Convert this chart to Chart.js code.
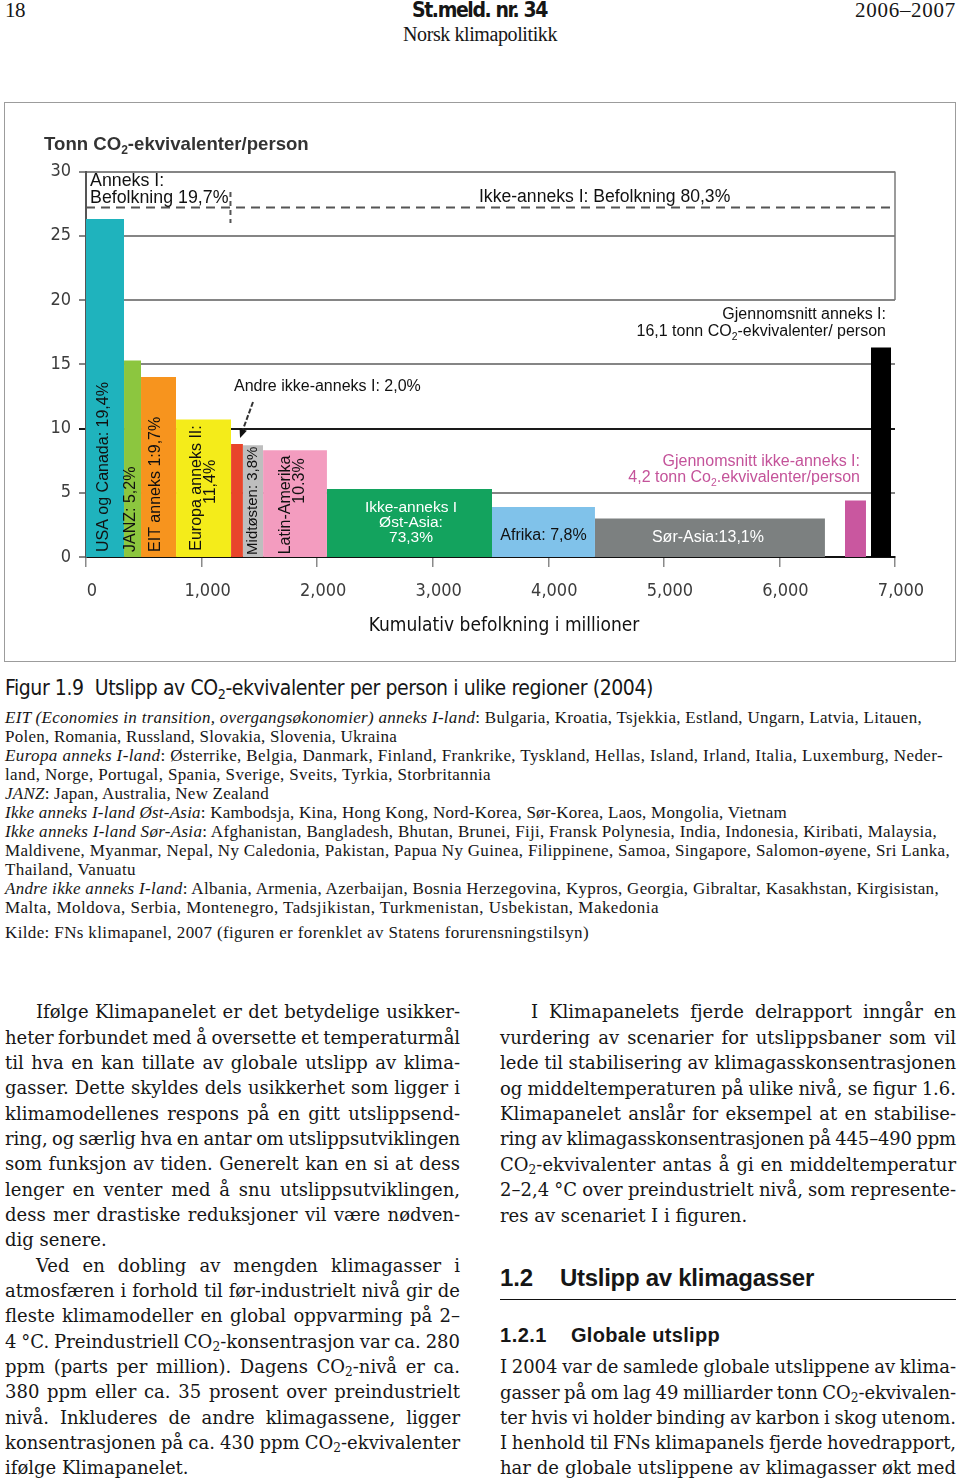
<!DOCTYPE html>
<html>
<head>
<meta charset="utf-8">
<script src="https://cdn.jsdelivr.net/npm/chart.js@4.4.1/dist/chart.umd.min.js"></script>
<style>
  html, body { margin: 0; padding: 0; background: #fff; }
  body { width: 960px; height: 1480px; position: relative; overflow: hidden; color: #161616; }
  .abs { position: absolute; white-space: nowrap; }
  sub { font-size: 0.68em; vertical-align: -0.28em; line-height: 0; }
  #frame { position: absolute; left: 4px; top: 102px; width: 952px; height: 560px; box-sizing: border-box; border: 1px solid #9c9c9c; }
  #chart { position: absolute; left: 0; top: 100px; }
  #rule { position: absolute; left: 500px; top: 1299px; width: 456px; height: 0; border-top: 1.5px solid #111; }
</style>
</head>
<body>
<div id="frame"></div>
<canvas id="chart" width="960" height="570"></canvas>
<div id="rule"></div>
<script>
// ---- data ----
const regionNames = ['USA og Canada', 'JANZ', 'EIT anneks I', 'Europa anneks II', 'Andre ikke-anneks I',
  'Midtøsten', 'Latin-Amerika', 'Ikke-anneks I Øst-Asia', 'Afrika', 'Sør-Asia'];
const popFrom = [0, 329, 476, 779, 1255, 1358, 1532, 2085, 3513, 4404];      // cumulative population, millions
const popTo = [329, 476, 779, 1255, 1358, 1532, 2085, 3513, 4404, 6394];
const tonnesPerPerson = [26.3, 15.3, 14.0, 10.7, 8.8, 8.7, 8.3, 5.3, 3.9, 3.0];

const avgNames = ['Gjennomsnitt ikke-anneks I', 'Gjennomsnitt anneks I'];
const avgFrom = [6567, 6792];
const avgTo = [6749, 6966];
const avgTonnes = [4.4, 16.3];

const annexSplitPop = 1250;
const annexLineLevel = 27.2;

const xTickLabels = ['0', '1,000', '2,000', '3,000', '4,000', '5,000', '6,000', '7,000'];
const yTickLabels = ['0', '5', '10', '15', '20', '25', '30'];

const barText = [
  ['USA og Canada: 19,4%'], ['JANZ: 5,2%'], ['EIT anneks 1:9,7%'], ['Europa anneks II:', '11,4%'], [],
  ['Midtøsten: 3,8%'], ['Latin-Amerika', '10.3%'], ['Ikke-anneks I', 'Øst-Asia:', '73,3%'],
  ['Afrika: 7,8%'], ['Sør-Asia:13,1%']
];

// ---- styling ----
const regionColors = ['#1fb3bd', '#8cc63f', '#f7941e', '#f4ec1a', '#e8452b', '#bebebe', '#f39cbf', '#13a35e', '#80c2ea', '#7c8080'];
const avgColors = ['#c9579f', '#000000'];
const SANS = "'Liberation Sans', Arial, sans-serif";
const NARROW = "'Liberation Sans Narrow', 'Arial Narrow', 'DejaVu Sans Condensed', sans-serif";
const SERIF = "'Liberation Serif', 'Times New Roman', serif";
const BODY = "'DejaVu Serif', 'Liberation Serif', serif";

// label placement: [dx in px from bar centre, y in tonnes]
const barLabelPos = [
  [[-1, 0.39]], [[-1.5, 0.39]], [[-2.5, 0.39]], [[-6.5, 5.37], [7.5, 5.84]], [],
  [[0, 0.16]], [[-9, 4.05], [5, 5.91]], [[1.5, 3.81], [1.5, 2.65], [1.5, 1.48]],
  [[0, 1.63]], [[-2, 1.48]]
];
const barLabelRot = [true, true, true, true, false, true, true, false, false, false];
const barLabelAlign = ['left', 'left', 'left', 'center', 'center', 'left', 'center', 'center', 'center', 'center'];
const barLabelColor = ['#111', '#111', '#111', '#111', '#111', '#111', '#111', '#fff', '#111', '#fff'];
const barLabelSize = [16, 16, 16, 16, 16, 15, 16, 15.5, 16, 16];

const freeNotes = [
  { t: 'Tonn CO_2-ekvivalenter/person', x: -363, y: 32.06, size: 18.6, weight: 'bold', color: '#333' },
  { t: 'Anneks I:', x: 35, y: 29.26, size: 17.8 },
  { t: 'Befolkning 19,7%', x: 35, y: 27.94, size: 17.8 },
  { t: 'Ikke-anneks I: Befolkning 80,3%', x: 3400, y: 28.0, size: 17.6 },
  { t: 'Gjennomsnitt anneks I:', x: 6922, y: 18.83, align: 'right', size: 16 },
  { t: '16,1 tonn CO_2-ekvivalenter/ person', x: 6922, y: 17.51, align: 'right', size: 16 },
  { t: 'Andre ikke-anneks I: 2,0%', x: 1281, y: 13.23, size: 16 },
  { t: 'Gjennomsnitt ikke-anneks I:', x: 6697, y: 7.39, align: 'right', size: 16, color: '#c4539a' },
  { t: '4,2 tonn Co_2.ekvivalenter/person', x: 6697, y: 6.15, align: 'right', size: 16, color: '#c4539a' }
];

// text with "_2" style subscripts
function drawText(c, text, x, y, o) {
  const size = o.size || 16, wt = o.weight || 'normal';
  const parts = text.split(/(_\d)/).filter(s => s).map(s => s[0] === '_' ? { t: s.slice(1), sub: true } : { t: s, sub: false });
  const font = sub => wt + ' ' + (sub ? size * 0.65 : size) + 'px ' + SANS;
  let w = 0;
  parts.forEach(p => { c.font = font(p.sub); p.w = c.measureText(p.t).width; w += p.w; });
  let sx = o.align === 'right' ? x - w : o.align === 'center' ? x - w / 2 : x;
  c.fillStyle = o.color || '#111';
  c.textAlign = 'left';
  c.textBaseline = 'middle';
  parts.forEach(p => { c.font = font(p.sub); c.fillText(p.t, sx, p.sub ? y + size * 0.32 : y); sx += p.w; });
}

const annotate = {
  id: 'annotate',
  afterDraw(chart) {
    const c = chart.ctx, xs = chart.scales.x, ys = chart.scales.y;
    const X = v => xs.getPixelForValue(v), Y = v => ys.getPixelForValue(v);
    c.save();

    // annex I / non-annex I divider
    c.strokeStyle = '#555';
    c.lineWidth = 2;
    c.setLineDash([9, 6]);
    c.beginPath(); c.moveTo(X(0), Y(annexLineLevel)); c.lineTo(X(7000), Y(annexLineLevel)); c.stroke();
    c.setLineDash([5, 4]);
    c.beginPath(); c.moveTo(X(annexSplitPop), Y(28.4)); c.lineTo(X(annexSplitPop), Y(26.0)); c.stroke();
    c.setLineDash([]);

    // right frame stub
    c.strokeStyle = '#7a7a7a';
    c.lineWidth = 1.5;
    c.beginPath(); c.moveTo(X(7000), Y(30)); c.lineTo(X(7000), Y(20)); c.stroke();

    // arrow to "Andre ikke-anneks I"
    const ax1 = X(1445), ay1 = Y(12.06), ax2 = X(1333), ay2 = Y(9.26);
    c.strokeStyle = '#333';
    c.lineWidth = 2;
    c.setLineDash([5, 2]);
    c.beginPath(); c.moveTo(ax1, ay1); c.lineTo(ax2 + 2, ay2 - 6); c.stroke();
    c.setLineDash([]);
    const ang = Math.atan2(ay2 - ay1, ax2 - ax1);
    c.fillStyle = '#111';
    c.beginPath();
    c.moveTo(ax2, ay2);
    c.lineTo(ax2 - 10 * Math.cos(ang - 0.4), ay2 - 10 * Math.sin(ang - 0.4));
    c.lineTo(ax2 - 10 * Math.cos(ang + 0.4), ay2 - 10 * Math.sin(ang + 0.4));
    c.closePath(); c.fill();

    // labels in the bars
    barText.forEach((lines, i) => {
      const cx = X((popFrom[i] + popTo[i]) / 2);
      lines.forEach((t, j) => {
        const [dx, yv] = barLabelPos[i][j];
        const o = { size: barLabelSize[i], color: barLabelColor[i], align: barLabelAlign[i] };
        if (barLabelRot[i]) {
          c.save();
          c.translate(cx + dx, Y(yv));
          c.rotate(-Math.PI / 2);
          drawText(c, t, 0, 0, o);
          c.restore();
        } else {
          drawText(c, t, cx + dx, Y(yv), o);
        }
      });
    });

    freeNotes.forEach(n => drawText(c, n.t, X(n.x), Y(n.y), n));
    c.restore();
  }
};

const rect = (from, to, v) => [{ x: from, y: v }, { x: to, y: v }];
const datasets = regionNames.map((name, i) => ({
  label: name,
  data: rect(popFrom[i], popTo[i], tonnesPerPerson[i]),
  backgroundColor: regionColors[i],
  borderColor: 'rgba(0,0,0,0)',
  borderWidth: 0,
  pointRadius: 0,
  tension: 0,
  fill: 'origin'
})).concat(avgNames.map((name, i) => ({
  label: name,
  data: rect(avgFrom[i], avgTo[i], avgTonnes[i]),
  backgroundColor: avgColors[i],
  borderColor: 'rgba(0,0,0,0)',
  borderWidth: 0,
  pointRadius: 0,
  tension: 0,
  fill: 'origin'
})));

new Chart(document.getElementById('chart'), {
  type: 'line',
  data: { datasets },
  options: {
    responsive: false,
    animation: false,
    devicePixelRatio: 1,
    layout: { padding: { left: 0, top: 71.5, right: 65, bottom: 0 } },
    plugins: { legend: { display: false }, tooltip: { enabled: false } },
    scales: {
      x: {
        type: 'linear', min: 0, max: 7000,
        afterFit: s => { s.height = 113; s.paddingLeft = 0; s.paddingRight = 0; },
        grid: { drawOnChartArea: false, drawTicks: true, tickLength: 10, color: '#8a8a8a', lineWidth: 1.5 },
        border: { color: '#111', width: 2 },
        ticks: {
          stepSize: 1000, padding: 14, labelOffset: 6, color: '#3c3c3c', maxRotation: 0,
          font: { family: NARROW, size: 18 },
          callback: (v, i) => xTickLabels[i]
        },
        title: {
          display: true, text: '     Kumulativ befolkning i millioner', color: '#111',
          font: { family: NARROW, size: 19 }, padding: { top: 0, bottom: 33 }
        }
      },
      y: {
        min: 0, max: 30,
        afterFit: s => { s.width = 86; s.paddingTop = 0; s.paddingBottom = 0; },
        grid: {
          color: c => c.tick && c.tick.value === 10 ? '#1a1a1a' : '#858585',
          lineWidth: 2, tickLength: 7, drawTicks: true
        },
        border: { color: '#555', width: 2 },
        ticks: {
          stepSize: 5, padding: 8, color: '#3c3c3c',
          font: { family: NARROW, size: 18 },
          callback: (v, i) => yTickLabels[i]
        }
      }
    }
  },
  plugins: [annotate]
});

// ---- page text ----
function fit(span, w, mode) {
  const nat = span.getBoundingClientRect().width;
  if (mode === 'word') {
    const n = (span.textContent.match(/ /g) || []).length;
    if (!n) return;
    if (w - nat < -1 * n) {
      span.style.letterSpacing = ((w - nat + 1 * n) / span.textContent.length) + 'px';
    }
    const nat2 = span.getBoundingClientRect().width;
    span.style.wordSpacing = ((w - nat2) / n) + 'px';
  } else {
    const n = span.textContent.length;
    span.style.letterSpacing = ((w - nat) / n) + 'px';
  }
}
function place(html, o) {
  const d = document.createElement('div');
  d.className = 'abs';
  d.style.fontFamily = o.family;
  d.style.fontSize = o.size + 'px';
  d.style.lineHeight = (o.size * 1.2) + 'px';
  if (o.weight) d.style.fontWeight = o.weight;
  d.style.left = o.x + 'px';
  d.style.top = (o.yc - 0.59 * o.size) + 'px';
  d.innerHTML = '<span>' + html + '</span>';
  document.body.appendChild(d);
  if (o.w) fit(d.firstChild, o.w, o.mode);
  return d;
}

// header
place('18', { x: 5, yc: 10, w: 20, size: 21, family: SERIF });
place('St.meld. nr. 34', { x: 412, yc: 10, w: 135, size: 21, family: NARROW, weight: 'bold' });
place('2006–2007', { x: 855, yc: 10, w: 101, size: 21, family: SERIF });
place('Norsk klimapolitikk', { x: 403, yc: 34, w: 154, size: 20, family: SERIF });

// caption and notes
place('Figur 1.9&nbsp; Utslipp av CO<sub>2</sub>-ekvivalenter per person i ulike regioner (2004)',
  { x: 5, yc: 688, w: 648, size: 21, family: NARROW });
const noteLines = [
  ['<i>EIT (Economies in transition, overgangsøkonomier) anneks I-land</i>: Bulgaria, Kroatia, Tsjekkia, Estland, Ungarn, Latvia, Litauen,', 917],
  ['Polen, Romania, Russland, Slovakia, Slovenia, Ukraina', 392],
  ['<i>Europa anneks I-land</i>: Østerrike, Belgia, Danmark, Finland, Frankrike, Tyskland, Hellas, Island, Irland, Italia, Luxemburg, Neder-', 938],
  ['land, Norge, Portugal, Spania, Sverige, Sveits, Tyrkia, Storbritannia', 486],
  ['<i>JANZ</i>: Japan, Australia, New Zealand', 264],
  ['<i>Ikke anneks I-land Øst-Asia</i>: Kambodsja, Kina, Hong Kong, Nord-Korea, Sør-Korea, Laos, Mongolia, Vietnam', 782],
  ['<i>Ikke anneks I-land Sør-Asia</i>: Afghanistan, Bangladesh, Bhutan, Brunei, Fiji, Fransk Polynesia, India, Indonesia, Kiribati, Malaysia,', 932],
  ['Maldivene, Myanmar, Nepal, Ny Caledonia, Pakistan, Papua Ny Guinea, Filippinene, Samoa, Singapore, Salomon-øyene, Sri Lanka,', 945],
  ['Thailand, Vanuatu', 131],
  ['<i>Andre ikke anneks I-land</i>: Albania, Armenia, Azerbaijan, Bosnia Herzegovina, Kypros, Georgia, Gibraltar, Kasakhstan, Kirgisistan,', 934],
  ['Malta, Moldova, Serbia, Montenegro, Tadsjikistan, Turkmenistan, Usbekistan, Makedonia', 654]
];
noteLines.forEach((l, i) => place(l[0], { x: 5, yc: 718 + i * 19, w: l[1], size: 17, family: SERIF }));
place('Kilde: FNs klimapanel, 2007 (figuren er forenklet av Statens forurensningstilsyn)',
  { x: 5, yc: 933, w: 584, size: 17, family: SERIF });

// body columns: ">" = first-line indent, "|" = last line of paragraph
const CO2 = 'CO<sub>2</sub>';
const leftCol = [
  '>Ifølge Klimapanelet er det betydelige usikker-',
  'heter forbundet med å oversette et temperaturmål',
  'til hva en kan tillate av globale utslipp av klima-',
  'gasser. Dette skyldes dels usikkerhet som ligger i',
  'klimamodellenes respons på en gitt utslippsend-',
  'ring, og særlig hva en antar om utslippsutviklingen',
  'som funksjon av tiden. Generelt kan en si at dess',
  'lenger en venter med å snu utslippsutviklingen,',
  'dess mer drastiske reduksjoner vil være nødven-',
  '|dig senere.',
  '>Ved en dobling av mengden klimagasser i',
  'atmosfæren i forhold til før-industrielt nivå gir de',
  'fleste klimamodeller en global oppvarming på 2–',
  '4 °C. Preindustriell ' + CO2 + '-konsentrasjon var ca. 280',
  'ppm (parts per million). Dagens ' + CO2 + '-nivå er ca.',
  '380 ppm eller ca. 35 prosent over preindustrielt',
  'nivå. Inkluderes de andre klimagassene, ligger',
  'konsentrasjonen på ca. 430 ppm ' + CO2 + '-ekvivalenter',
  '|ifølge Klimapanelet.'
];
const rightTop = [
  '>I Klimapanelets fjerde delrapport inngår en',
  'vurdering av scenarier for utslippsbaner som vil',
  'lede til stabilisering av klimagasskonsentrasjonen',
  'og middeltemperaturen på ulike nivå, se figur 1.6.',
  'Klimapanelet anslår for eksempel at en stabilise-',
  'ring av klimagasskonsentrasjonen på 445–490 ppm',
  CO2 + '-ekvivalenter antas å gi en middeltemperatur',
  '2–2,4 °C over preindustrielt nivå, som represente-',
  '|res av scenariet I i figuren.'
];
const rightBottom = [
  'I 2004 var de samlede globale utslippene av klima-',
  'gasser på om lag 49 milliarder tonn ' + CO2 + '-ekvivalen-',
  'ter hvis vi holder binding av karbon i skog utenom.',
  'I henhold til FNs klimapanels fjerde hovedrapport,',
  'har de globale utslippene av klimagasser økt med'
];
function column(lines, x, w, y0, step) {
  lines.forEach((s, i) => {
    let indent = 0, just = true;
    if (s[0] === '>') { indent = 31; s = s.slice(1); }
    if (s[0] === '|') { just = false; s = s.slice(1); }
    place(s, { x: x + indent, yc: y0 + i * step, w: just ? w - indent : 0, mode: 'word', size: 18, family: BODY });
  });
}
column(leftCol, 5, 455, 1012, 25.33);
column(rightTop, 500, 456, 1012, 25.4);
column(rightBottom, 500, 456, 1367, 25.25);

// headings
place('1.2', { x: 500, yc: 1278, w: 33, size: 24, family: SANS, weight: 'bold' });
place('Utslipp av klimagasser', { x: 560, yc: 1278, w: 254, size: 24, family: SANS, weight: 'bold' });
place('1.2.1', { x: 500, yc: 1335, w: 47, size: 20, family: SANS, weight: 'bold' });
place('Globale utslipp', { x: 571, yc: 1335, w: 149, size: 20, family: SANS, weight: 'bold' });
</script>
</body>
</html>
